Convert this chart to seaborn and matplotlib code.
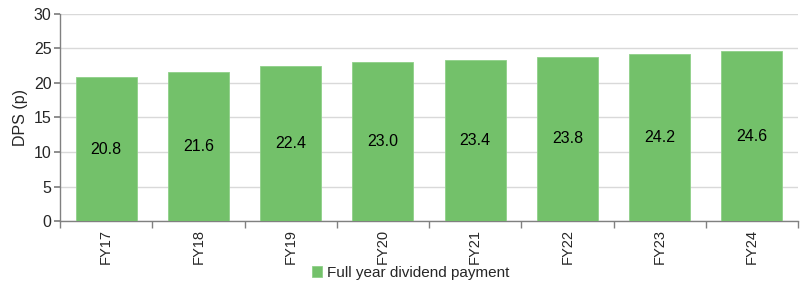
import matplotlib
matplotlib.use("Agg")
import matplotlib.pyplot as plt
import seaborn as sns
import pandas as pd
from matplotlib.ticker import FixedLocator

categories = ["FY17", "FY18", "FY19", "FY20", "FY21", "FY22", "FY23", "FY24"]
dps = [20.8, 21.6, 22.4, 23.0, 23.4, 23.8, 24.2, 24.6]
series_name = "Full year dividend payment"

sns.set_theme(style="white")
plt.rcParams["font.family"] = ["Liberation Sans", "DejaVu Sans"]

df = pd.DataFrame({"Year": categories, "DPS": dps, "Series": series_name})

fig = plt.figure(figsize=(8, 2.91), dpi=100)
ax = fig.add_axes([0.075, 0.2405, 0.9225, 0.7115])
color = "#73C16A"
sns.barplot(data=df, x="Year", y="DPS", hue="Series", palette=[color],
            width=0.66, ax=ax, saturation=1, edgecolor="#8fd088", linewidth=0.6, zorder=3)

for i, v in enumerate(dps):
    ax.text(i, v / 2, f"{v:.1f}", ha="center", va="center", fontsize=11.5, color="black", zorder=4)

ax.set_ylim(0, 30)
ax.set_xlim(-0.5, len(categories) - 0.5)
ax.set_yticks(range(0, 31, 5))
ax.yaxis.grid(True, color="#d9d9d9", linewidth=1, zorder=0)
ax.set_axisbelow(True)
ax.set_xlabel("")
ax.set_ylabel("DPS (p)", fontsize=11.5)
ax.tick_params(axis="y", labelsize=11.5, length=4, color="#808080", left=True, pad=2)
ax.tick_params(axis="x", which="major", labelsize=10.5, length=0, rotation=90, pad=6)
ax.xaxis.set_minor_locator(FixedLocator([i - 0.5 for i in range(len(categories) + 1)]))
ax.tick_params(axis="x", which="minor", length=5, color="#808080", bottom=True)
for s in ["top", "right"]:
    ax.spines[s].set_visible(False)
for s in ["left", "bottom"]:
    ax.spines[s].set_color("#808080")
    ax.spines[s].set_linewidth(1)

handles, labels = ax.get_legend_handles_labels()
ax.legend_.remove()
fig.legend(handles, labels, loc="center", bbox_to_anchor=(0.513, 0.062), frameon=False,
           fontsize=11, handlelength=0.7, handleheight=0.7, handletextpad=0.3,
           borderpad=0.1)
fig.savefig("out.png", dpi=100)
